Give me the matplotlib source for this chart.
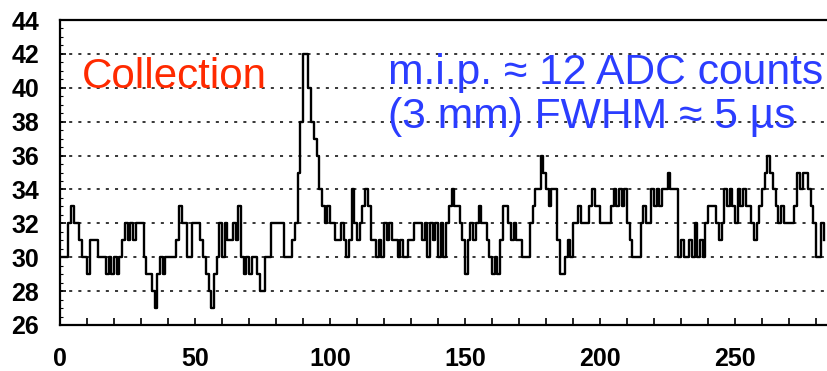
import matplotlib
matplotlib.use("Agg")
import matplotlib.pyplot as plt
import numpy as np
from matplotlib.ticker import MultipleLocator, FixedLocator

# ADC counts per time sample
adc_counts = [
    30, 30, 30, 32, 33, 32, 32, 31, 30, 30,   # 0-9
    29, 31, 31, 31, 30, 30, 30, 29, 30, 29,   # 10-19
    30, 29, 30, 31, 32, 31, 32, 31, 32, 32,   # 20-29
    32, 30, 29, 29, 28, 27, 29, 30, 29, 30,   # 30-39
    30, 30, 30, 31, 33, 32, 32, 30, 30, 32,   # 40-49
    32, 32, 31, 30, 29, 28, 27, 29, 30, 32,   # 50-59
    30, 32, 31, 31, 32, 31, 33, 30, 29, 30,   # 60-69
    29, 30, 30, 29, 28, 28, 30, 30, 32, 32,   # 70-79
    32, 32, 32, 30, 30, 30, 31, 32, 35, 38,   # 80-89
    42, 42, 40, 38, 37, 36, 34, 33, 32, 33,   # 90-99
    32, 32, 31, 31, 32, 31, 30, 31, 34, 32,   # 100-109
    31, 32, 33, 34, 33, 31, 31, 30, 31, 30,   # 110-119
    32, 31, 32, 31, 31, 30, 31, 30, 30, 31,   # 120-129
    31, 32, 32, 32, 31, 32, 30, 32, 31, 32,   # 130-139
    30, 32, 30, 32, 33, 34, 33, 33, 32, 31,   # 140-149
    29, 31, 32, 31, 32, 33, 32, 32, 31, 30,   # 150-159
    29, 30, 29, 31, 33, 33, 32, 31, 32, 31,   # 160-169
    31, 30, 30, 30, 32, 33, 34, 34, 36, 35,   # 170-179
    34, 33, 34, 34, 31, 29, 29, 30, 31, 30,   # 180-189
    32, 32, 33, 32, 32, 32, 33, 34, 33, 33,   # 190-199
    32, 32, 32, 32, 33, 34, 33, 34, 33, 34,   # 200-209
    32, 31, 30, 30, 30, 32, 33, 32, 32, 34,   # 210-219
    33, 34, 33, 34, 34, 35, 34, 34, 34, 30,   # 220-229
    31, 30, 30, 31, 30, 32, 30, 31, 30, 32,   # 230-239
    33, 33, 33, 32, 31, 32, 34, 33, 34, 33,   # 240-249
    32, 34, 33, 34, 33, 33, 32, 31, 32, 33,   # 250-259
    34, 35, 36, 35, 34, 33, 32, 33, 32, 32,   # 260-269
    32, 32, 33, 35, 34, 35, 35, 34, 33, 32,   # 270-279
    30, 30, 32, 31,                           # 280-283
]
samples = list(range(len(adc_counts)))

y_ticks = [26, 28, 30, 32, 34, 36, 38, 40, 42, 44]
x_ticks = [0, 50, 100, 150, 200, 250]
grid_levels = [28, 30, 32, 34, 36, 38, 40, 42]

label_text = "Collection"
note_lines = ["m.i.p. \u2248 12 ADC counts", "(3 mm) FWHM \u2248 5 \u00b5s"]

W, H = 827, 371
fig = plt.figure(figsize=(W / 100, H / 100), dpi=100)
left, right, bottom, top = 60, 827, 325, 20
ax = fig.add_axes([left / W, (H - bottom) / H, (right - left) / W, (bottom - top) / H])

for g in grid_levels:
    ax.axhline(g, color="black", lw=1.1, ls=(0, (2.0, 4.0)), zorder=1)

ax.plot(samples, adc_counts, drawstyle="steps-post", color="black", lw=1.7, zorder=3)

ax.set_xlim(0, (right - left) / 2.7)
ax.set_ylim(26, 44)

ax.xaxis.set_major_locator(FixedLocator(x_ticks))
ax.xaxis.set_minor_locator(MultipleLocator(10))
ax.yaxis.set_major_locator(FixedLocator(y_ticks))
ax.yaxis.set_minor_locator(MultipleLocator(0.5))

tick_font = dict(family=["Liberation Sans Narrow", "Liberation Sans", "DejaVu Sans"],
                 weight="bold", size=18)
ax.set_xticklabels([str(t) for t in x_ticks], **tick_font)
ax.set_yticklabels([str(t) for t in y_ticks], **tick_font)

ax.tick_params(axis="x", which="both", direction="in", length=5, width=1.2, pad=16)
ax.tick_params(axis="y", which="major", direction="in", length=4, width=1.2, pad=15)
ax.tick_params(axis="y", which="minor", direction="in", length=2, width=0.8)
ax.tick_params(axis="x", which="minor", length=5)

for side in ["left", "bottom", "top"]:
    ax.spines[side].set_linewidth(1.6)
ax.spines["right"].set_visible(False)

txt_font = ["Liberation Sans", "DejaVu Sans"]
ax.text(0.028, 0.777, label_text, transform=ax.transAxes, color="#ff2a00",
        fontsize=30.3, family=txt_font, va="baseline", ha="left")
ax.text(0.428, 0.79, note_lines[0], transform=ax.transAxes, color="#2b3dff",
        fontsize=30.7, family=txt_font, va="baseline", ha="left")
ax.text(0.428, 0.646, note_lines[1], transform=ax.transAxes, color="#2b3dff",
        fontsize=30.7, family=txt_font, va="baseline", ha="left")

fig.savefig("out.png", dpi=100)
